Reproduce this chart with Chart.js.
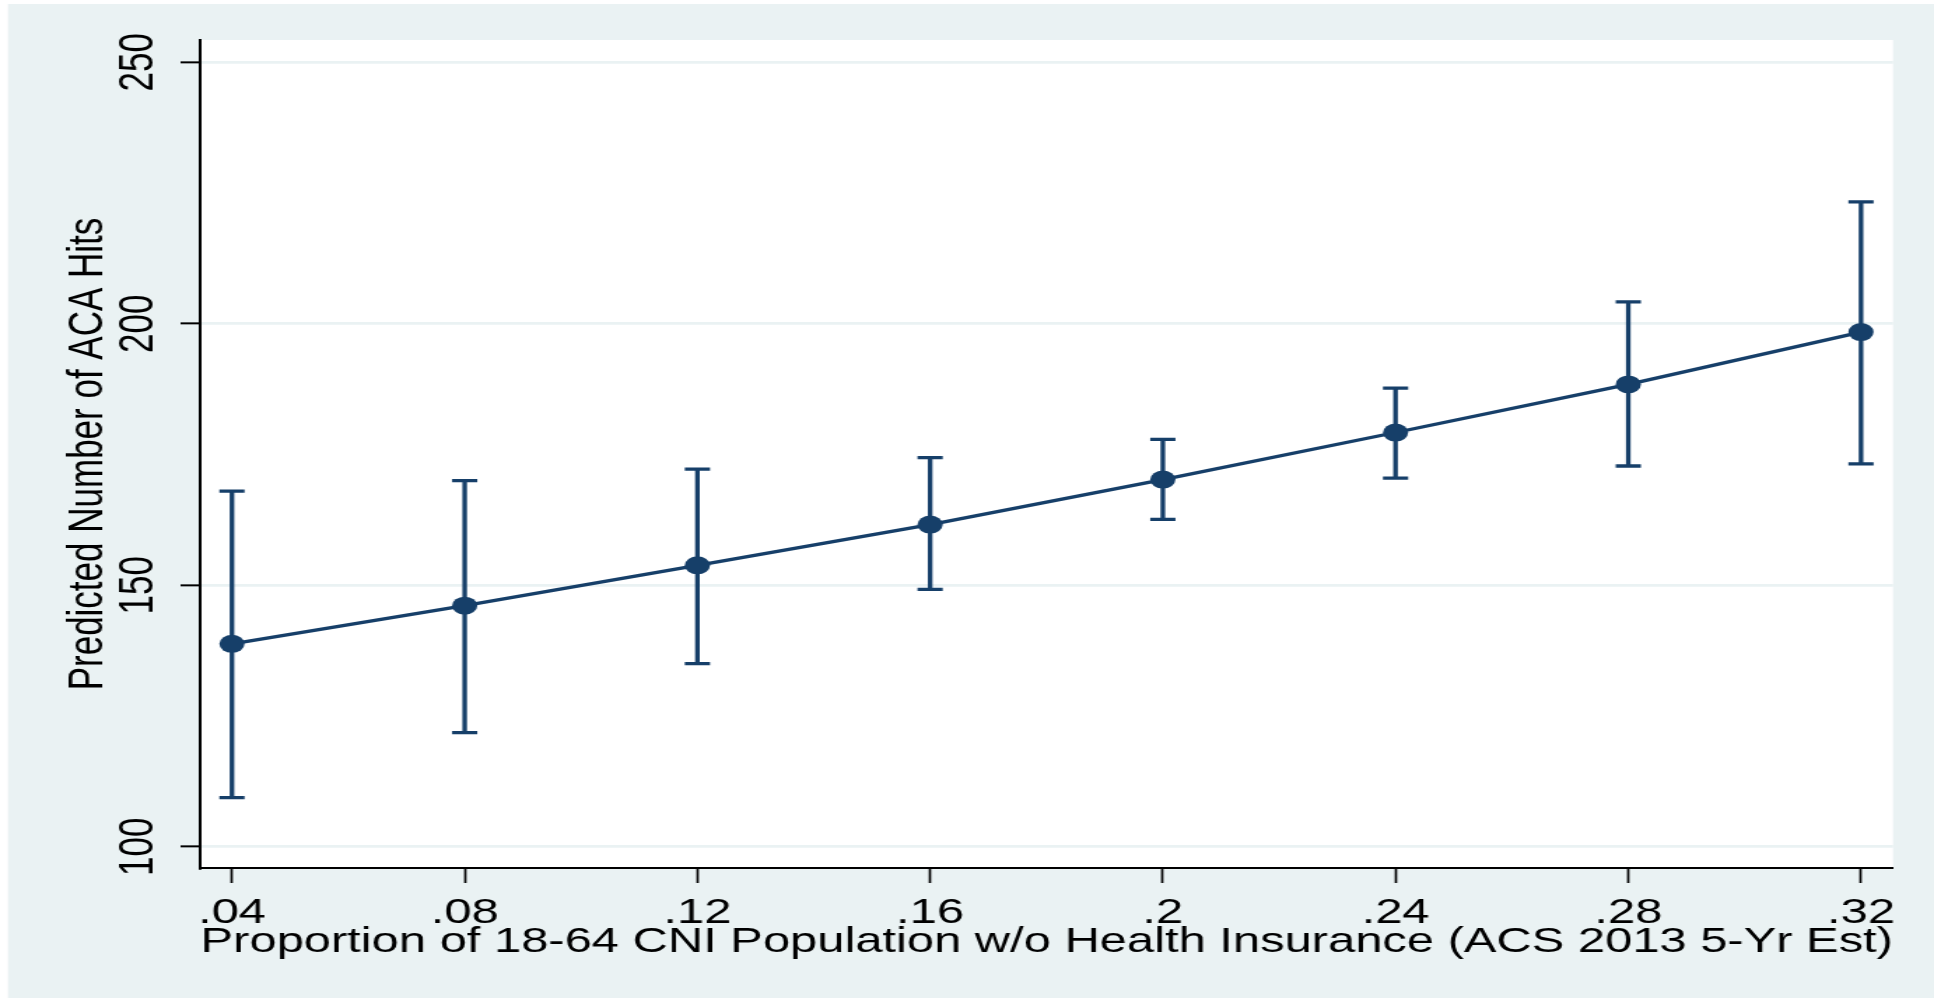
<!DOCTYPE html>
<html>
<head>
<meta charset="utf-8">
<script src="https://cdn.jsdelivr.net/npm/chart.js@4"></script>
<style>
  html, body { margin: 0; padding: 0; background: #fff; overflow: hidden; }
  /* the source picture is stretched sideways, so the chart is drawn narrow and scaled out */
  #wrap { position: absolute; left: 0; top: 0; width: 1382px; height: 998px;
          transform: scaleX(1.39942); transform-origin: 0 0; }
</style>
</head>
<body>
<div id="wrap"><canvas id="myChart" width="1382" height="998"></canvas></div>
<script>
// data
const xValues = [0.04, 0.08, 0.12, 0.16, 0.20, 0.24, 0.28, 0.32];
const predicted = [138.8, 146.1, 153.8, 161.6, 170.2, 179.2, 188.4, 198.4];
const upper = [168.0, 170.0, 172.2, 174.4, 177.9, 187.7, 204.2, 223.3];
const lower = [109.4, 121.8, 135.0, 149.2, 162.6, 170.5, 172.8, 173.2];
const xTickLabels = ['.04', '.08', '.12', '.16', '.2', '.24', '.28', '.32'];
const yTicks = [100, 150, 200, 250];

const navy = '#163f69';
const bg = '#eaf2f3';
const font = "'Liberation Sans', Arial, sans-serif";

const background = {
    id: 'background',
    beforeDraw(chart){
        const ctx = chart.ctx;
        const a = chart.chartArea;
        ctx.save();
        ctx.fillStyle = '#fff';
        ctx.fillRect(0, 0, chart.width, chart.height);
        ctx.fillStyle = bg;
        ctx.fillRect(5.7, 4, chart.width, chart.height);
        ctx.fillStyle = '#fff';
        ctx.fillRect(a.left, a.top, a.right - a.left, a.bottom - a.top);
        ctx.restore();
    }
};

const errorBars = {
    id: 'errorBars',
    beforeDatasetsDraw(chart){
        const ctx = chart.ctx;
        const x = chart.scales.x, y = chart.scales.y;
        ctx.save();
        ctx.strokeStyle = navy;
        ctx.lineWidth = 3.3;
        xValues.forEach(function(v, i){
            const px = x.getPixelForValue(v);
            const top = y.getPixelForValue(upper[i]);
            const bot = y.getPixelForValue(lower[i]);
            ctx.beginPath();
            ctx.moveTo(px, top); ctx.lineTo(px, bot);
            ctx.moveTo(px - 9, top); ctx.lineTo(px + 9, top);
            ctx.moveTo(px - 9, bot); ctx.lineTo(px + 9, bot);
            ctx.stroke();
        });
        ctx.restore();
    }
};

const data = {
    datasets: [{
        label: 'Predicted',
        data: xValues.map(function(v, i){ return {x: v, y: predicted[i]}; }),
        borderColor: navy,
        backgroundColor: navy,
        borderWidth: 3.3,
        pointRadius: 9,
        pointHoverRadius: 9,
        pointBorderWidth: 0,
        pointBackgroundColor: navy,
        tension: 0
    }]
};

const config = {
    type: 'line',
    data: data,
    plugins: [background, errorBars],
    options: {
        responsive: false,
        animation: false,
        events: [],
        layout: { padding: { left: 0, top: 40, right: 29.3, bottom: 0 } },
        plugins: { legend: { display: false }, tooltip: { enabled: false } },
        scales: {
            x: {
                type: 'linear',
                min: 0.0346,
                max: 0.3255,
                afterBuildTicks: function(scale){ scale.ticks = xValues.map(function(v){ return {value: v}; }); },
                afterFit: function(scale){ scale.height = 130; },
                ticks: {
                    color: '#000',
                    font: { family: font, size: 35 },
                    padding: 9,
                    maxRotation: 0,
                    autoSkip: false,
                    callback: function(value, index){ return xTickLabels[index]; }
                },
                grid: { drawOnChartArea: false, drawTicks: true, tickLength: 15, tickColor: '#000', tickWidth: 1.7 },
                border: { display: true, color: '#000', width: 2 },
                title: {
                    display: true,
                    text: 'Proportion of 18-64 CNI Population w/o Health Insurance (ACS 2013 5-Yr Est)',
                    color: '#000',
                    font: { family: font, size: 35 },
                    padding: { top: 0, bottom: 34.5 }
                }
            },
            y: {
                min: 95.93,
                max: 254.26,
                afterBuildTicks: function(scale){ scale.ticks = yTicks.map(function(v){ return {value: v}; }); },
                afterFit: function(scale){ scale.width = 143.3; },
                ticks: {
                    color: '#000',
                    font: { family: font, size: 35 },
                    minRotation: 90,
                    maxRotation: 90,
                    crossAlign: 'center',
                    padding: 0,
                    autoSkip: false
                },
                grid: { color: bg, lineWidth: 2.7, drawTicks: true, tickLength: 14.3, tickColor: '#000', tickWidth: 2 },
                border: { display: true, color: '#000', width: 2 },
                title: {
                    display: true,
                    text: 'Predicted Number of ACA Hits',
                    color: '#000',
                    font: { family: font, size: 35 },
                    padding: { top: 42.5, bottom: 0 }
                }
            }
        }
    }
};

const myChart = new Chart(document.getElementById('myChart'), config);
</script>
</body>
</html>
